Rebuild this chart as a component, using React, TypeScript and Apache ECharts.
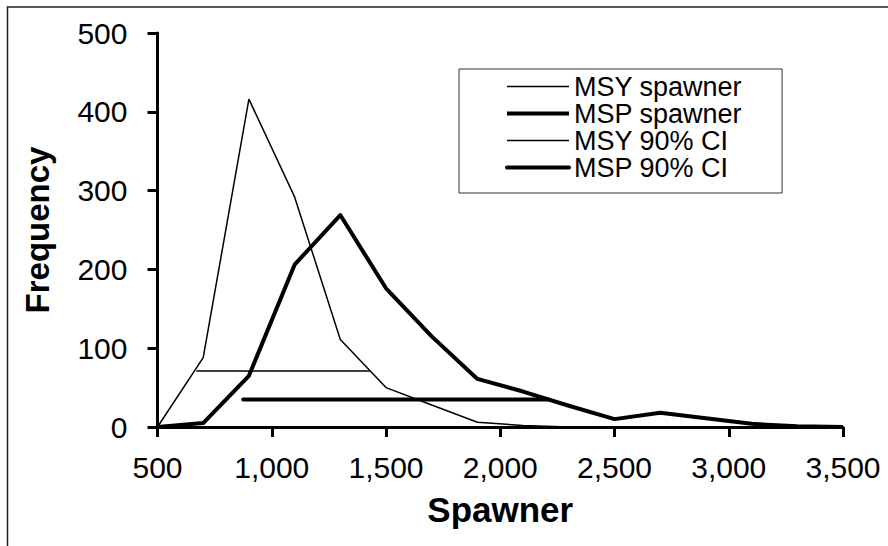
import React, { useEffect, useRef } from "react";
import * as echarts from "echarts";

// Histogram bin centres (spawner abundance) and frequencies
const spawnerBins = [500, 700, 900, 1100, 1300, 1500, 1700, 1900, 2100, 2300, 2500, 2700, 2900, 3100, 3300, 3500];
const msyFrequency = [0, 88, 416, 292, 111, 50, 28, 6, 2, 0, 0, 0, 0, 0, 0, 0];
const mspFrequency = [0, 5, 65, 206, 269, 176, 115, 61, 45, 27, 10, 18, 11, 4, 1, 0];

// 90% confidence intervals: [lower, upper] and the height they are drawn at
const msyInterval = [670, 1430];
const msyIntervalLevel = 71;
const mspInterval = [875, 2210];
const mspIntervalLevel = 35;

const xTicks = { min: 500, max: 3500, step: 500 };
const yTicks = { min: 0, max: 500, step: 100 };

const FONT = "'Liberation Sans', Arial, Helvetica, sans-serif";
const THIN = 1.5;
const THICK = 4;

export default function App() {
  const ref = useRef<HTMLDivElement>(null);

  useEffect(() => {
    if (!ref.current) return;
    const chart = echarts.init(ref.current, undefined, { renderer: "svg" });

    const pairs = (ys: number[]) => spawnerBins.map((x, i) => [x, ys[i]]);
    const span = (r: number[], level: number) => [
      [r[0], level],
      [r[1], level],
    ];

    chart.setOption({
      animation: false,
      backgroundColor: "#ffffff",
      textStyle: { fontFamily: FONT },
      grid: { left: 157.5, right: 45, top: 33, bottom: 119 },
      graphic: [
        {
          type: "rect",
          shape: { x: 7.5, y: 7, width: 1000, height: 1000 },
          style: { fill: "none", stroke: "#222", lineWidth: 1.5 },
          silent: true,
        },
      ],
      legend: {
        orient: "vertical",
        left: 459,
        top: 69,
        padding: [4, 40, 12, 46],
        itemGap: 0,
        itemWidth: 62,
        itemHeight: 14,
        borderColor: "#333",
        borderWidth: 1,
        backgroundColor: "#fff",
        itemStyle: { opacity: 0 },
        textStyle: { fontFamily: FONT, fontSize: 27, color: "#000", lineHeight: 26 },
        data: [
          { name: "MSY spawner", lineStyle: { width: THIN } },
          { name: "MSP spawner", lineStyle: { width: THICK } },
          { name: "MSY 90% CI", lineStyle: { width: THIN } },
          { name: "MSP 90% CI", lineStyle: { width: THICK } },
        ],
      },
      xAxis: {
        type: "value",
        min: xTicks.min,
        max: xTicks.max,
        interval: xTicks.step,
        name: "Spawner",
        nameLocation: "middle",
        nameGap: 65,
        nameTextStyle: { fontFamily: FONT, fontSize: 35, fontWeight: "bold", color: "#000" },
        axisLine: { lineStyle: { color: "#000", width: 3 } },
        axisTick: { show: true, length: 10, lineStyle: { color: "#000", width: 3 } },
        axisLabel: {
          margin: 25,
          fontFamily: FONT,
          fontSize: 30,
          color: "#000",
          formatter: (v: number) => v.toLocaleString("en-US"),
        },
        splitLine: { show: false },
      },
      yAxis: {
        type: "value",
        min: yTicks.min,
        max: yTicks.max,
        interval: yTicks.step,
        name: "Frequency",
        nameLocation: "middle",
        nameGap: 104,
        nameTextStyle: { fontFamily: FONT, fontSize: 33, fontWeight: "bold", color: "#000" },
        axisLine: { show: true, lineStyle: { color: "#000", width: 3 } },
        axisTick: { show: true, length: 10, lineStyle: { color: "#000", width: 3 } },
        axisLabel: { margin: 30, fontFamily: FONT, fontSize: 30, color: "#000" },
        splitLine: { show: false },
      },
      series: [
        {
          name: "MSY spawner",
          type: "line",
          data: pairs(msyFrequency),
          symbol: "none",
          lineStyle: { color: "#000", width: THIN },
          itemStyle: { color: "#000" },
          z: 3,
        },
        {
          name: "MSP spawner",
          type: "line",
          data: pairs(mspFrequency),
          symbol: "none",
          lineStyle: { color: "#000", width: THICK, join: "round" },
          itemStyle: { color: "#000" },
          z: 4,
        },
        {
          name: "MSY 90% CI",
          type: "line",
          data: span(msyInterval, msyIntervalLevel),
          symbol: "none",
          lineStyle: { color: "#000", width: THIN },
          itemStyle: { color: "#000" },
          z: 2,
        },
        {
          name: "MSP 90% CI",
          type: "line",
          data: span(mspInterval, mspIntervalLevel),
          symbol: "none",
          lineStyle: { color: "#000", width: THICK, cap: "round" },
          itemStyle: { color: "#000" },
          z: 2,
        },
      ],
    });

    return () => chart.dispose();
  }, []);

  return (
    <div
      ref={ref}
      style={{ position: "absolute", left: 0, top: 0, width: 888, height: 546 }}
    />
  );
}
